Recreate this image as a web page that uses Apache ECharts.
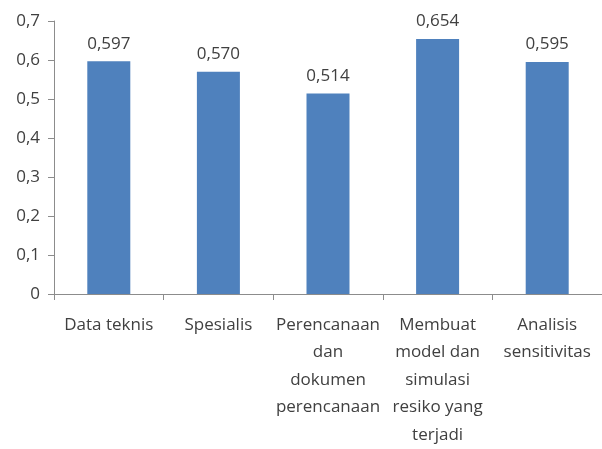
<!DOCTYPE html>
<html>
<head>
<meta charset="utf-8">
<script src="https://cdn.jsdelivr.net/npm/echarts@6/dist/echarts.min.js"></script>
<style>
  html, body { margin: 0; padding: 0; background: #fff; overflow: hidden; }
  #chart { width: 602px; height: 449px; }
</style>
</head>
<body>
<div id="chart"></div>
<script>
// Categories and scores
const categories = [
  'Data teknis',
  'Spesialis',
  'Perencanaan\ndan\ndokumen\nperencanaan',
  'Membuat\nmodel dan\nsimulasi\nresiko yang\nterjadi',
  'Analisis\nsensitivitas'
];
const scores = [0.597, 0.570, 0.514, 0.654, 0.595];
const yMin = 0;
const yMax = 0.7;
const yStep = 0.1;

const fmt = (v, d) => v.toFixed(d).replace('.', ',');
const font = 'Open Sans';
const textColor = '#404040';
const axisColor = '#8c8c8c';

const chart = echarts.init(document.getElementById('chart'), null, { renderer: 'canvas' });
chart.setOption({
  animation: false,
  backgroundColor: '#ffffff',
  // plot area runs slightly past the right edge of the canvas
  grid: { left: 54, top: 21, bottom: 155, width: 555, containLabel: false },
  xAxis: {
    type: 'category',
    data: categories,
    axisLine: { show: true, lineStyle: { color: axisColor, width: 1 } },
    axisTick: { show: true, length: 6, lineStyle: { color: axisColor } },
    axisLabel: {
      interval: 0,
      color: textColor,
      fontFamily: font,
      fontSize: 17,
      lineHeight: 27.5,
      margin: 17
    }
  },
  yAxis: {
    type: 'value',
    min: yMin,
    max: yMax,
    interval: yStep,
    splitLine: { show: false },
    axisLine: { show: true, lineStyle: { color: axisColor, width: 1 } },
    axisTick: { show: true, length: 6, lineStyle: { color: axisColor } },
    axisLabel: {
      color: textColor,
      fontFamily: font,
      fontSize: 17,
      margin: 14,
      formatter: v => (v === 0 ? '0' : fmt(v, 1))
    }
  },
  series: [{
    type: 'bar',
    data: scores,
    barWidth: 43,
    itemStyle: { color: '#4f81bd' },
    label: {
      show: true,
      position: 'top',
      distance: 9,
      color: textColor,
      fontFamily: font,
      fontSize: 17,
      formatter: p => fmt(p.value, 3)
    }
  }]
});
</script>
</body>
</html>
